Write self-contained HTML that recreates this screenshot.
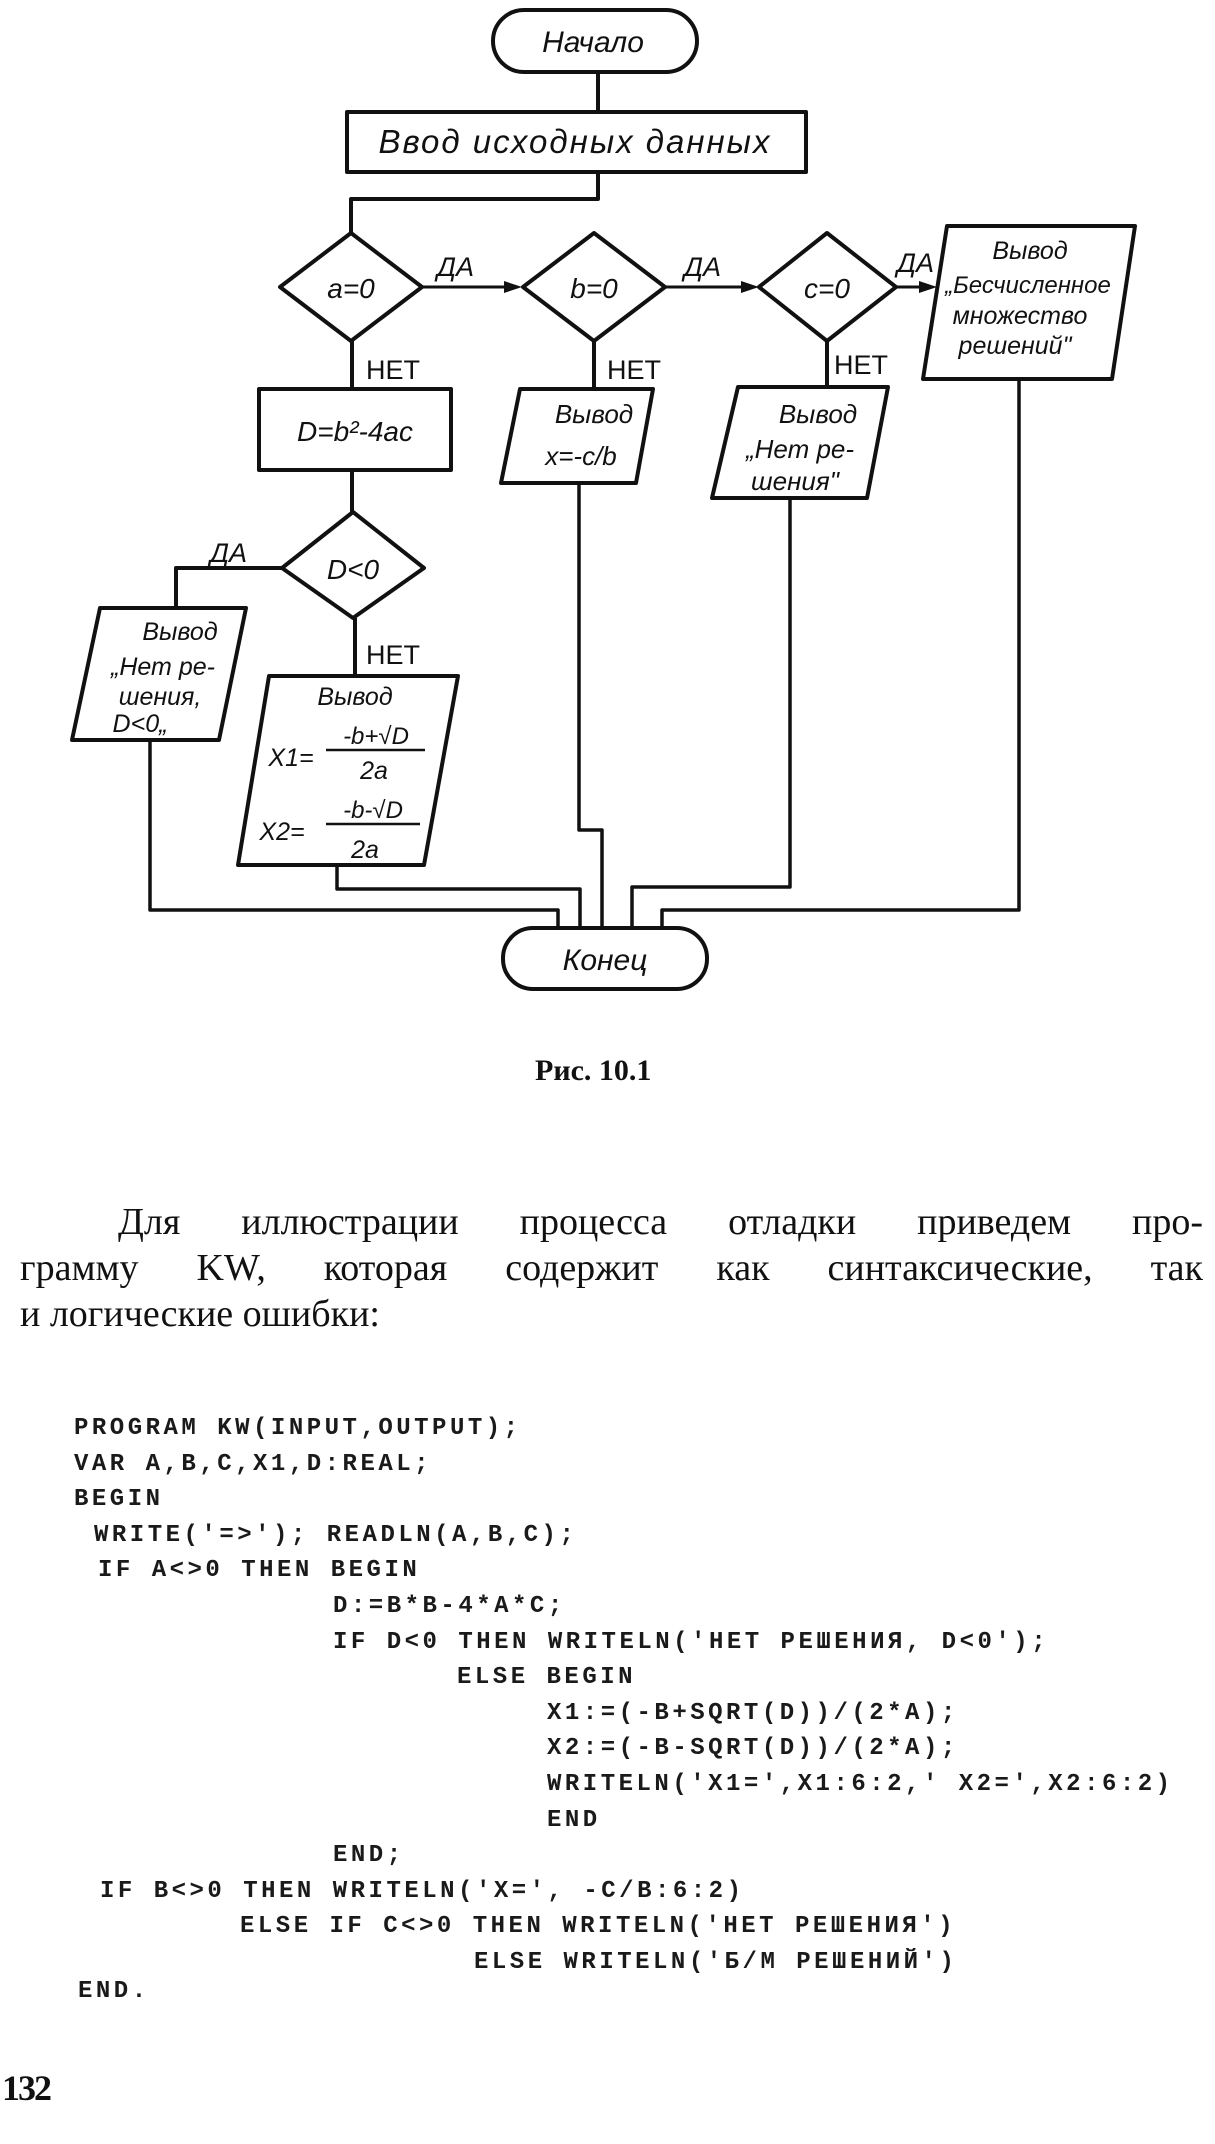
<!DOCTYPE html>
<html><head><meta charset="utf-8"><style>
html,body{margin:0;padding:0;background:#fff;}
body{width:1215px;height:2144px;position:relative;overflow:hidden;}
svg{position:absolute;left:0;top:0;}
.h{font-family:"Liberation Sans",sans-serif;font-style:italic;fill:#111;}
.n{font-family:"Liberation Sans",sans-serif;fill:#111;}
.p{position:absolute;font-family:"Liberation Serif",serif;font-size:38px;color:#111;white-space:nowrap;}
.j{text-align:justify;text-align-last:justify;white-space:normal;}
.c{position:absolute;font-family:"Liberation Mono",monospace;font-weight:bold;font-size:24px;letter-spacing:3.5px;color:#1a1a1a;white-space:pre;line-height:1;}
</style></head><body>
<svg width="1215" height="2144" viewBox="0 0 1215 2144">
<g fill="none" stroke="#111" stroke-width="4" stroke-linejoin="round">
<rect x="493" y="10" width="204" height="62" rx="31"/>
<line x1="598" y1="72" x2="598" y2="112"/>
<rect x="347" y="112" width="459" height="60"/>
<polyline points="598,172 598,199 351,199 351,233"/>
<polygon points="351,233 422,287 351,341 280,287"/>
<polygon points="594,233 665,287 594,341 523,287"/>
<polygon points="827,233 896,287 827,341 759,287"/>
<polygon points="353,512 424,568 353,618 282,568"/>
<line x1="422" y1="287" x2="515" y2="287" stroke-width="3"/>
<line x1="665" y1="287" x2="751" y2="287" stroke-width="3"/>
<line x1="896" y1="287" x2="929" y2="287" stroke-width="3"/>
<line x1="352" y1="341" x2="352" y2="389"/>
<line x1="594" y1="341" x2="594" y2="389"/>
<line x1="827" y1="341" x2="827" y2="387"/>
<rect x="259" y="389" width="192" height="81"/>
<line x1="352" y1="470" x2="352" y2="512"/>
<polyline points="282,568 176,568 176,608"/>
<line x1="355" y1="618" x2="355" y2="676"/>
<polygon points="947,226 1135,226 1112,379 923,379"/>
<polygon points="520,389 653,389 636,483 501,483"/>
<polygon points="738,387 888,387 867,498 712,498"/>
<polygon points="100,608 246,608 219,740 72,740"/>
<polygon points="269,676 458,676 424,865 238,865"/>
<g stroke-width="3.5">
<polyline points="150,740 150,910 558,910 558,930"/>
<polyline points="337,865 337,889 580,889 580,930"/>
<polyline points="579,483 579,830 602,830 602,930"/>
<polyline points="790,498 790,887 632,887 632,930"/>
<polyline points="1019,379 1019,910 662,910 662,930"/>
</g>
<rect x="503" y="928" width="204" height="61" rx="30"/>
</g>
<g fill="#111">
<polygon points="522,287 504,281 504,293"/>
<polygon points="759,287 741,281 741,293"/>
<polygon points="937,287 919,281 919,293"/>
</g>
<g stroke="#111" stroke-width="2.5">
<line x1="326" y1="750" x2="425" y2="750"/>
<line x1="326" y1="824" x2="420" y2="824"/>
</g>
<g class="h" text-anchor="middle">
<text x="593" y="52" font-size="30">Начало</text>
<text x="575" y="153" font-size="33" letter-spacing="2">Ввод исходных данных</text>
<text x="351" y="298" font-size="28">a=0</text>
<text x="594" y="298" font-size="28">b=0</text>
<text x="827" y="298" font-size="28">c=0</text>
<text x="353" y="579" font-size="28">D&lt;0</text>
<text x="355" y="441" font-size="28">D=b²-4ac</text>
<text x="594" y="423" font-size="26">Вывод</text>
<text x="581" y="465" font-size="26">x=-c/b</text>
<text x="818" y="423" font-size="26">Вывод</text>
<text x="800" y="458" font-size="26">„Нет ре-</text>
<text x="795" y="490" font-size="26">шения"</text>
<text x="1030" y="259" font-size="25">Вывод</text>
<text x="1028" y="293" font-size="24">„Бесчисленное</text>
<text x="1020" y="324" font-size="25">множество</text>
<text x="1015" y="354" font-size="25">решений"</text>
<text x="180" y="640" font-size="25">Вывод</text>
<text x="163" y="675" font-size="25">„Нет ре-</text>
<text x="160" y="705" font-size="25">шения,</text>
<text x="140" y="732" font-size="25">D&lt;0„</text>
<text x="355" y="705" font-size="25">Вывод</text>
<text x="291" y="766" font-size="25">X1=</text>
<text x="376" y="744" font-size="24">-b+√D</text>
<text x="374" y="779" font-size="25">2a</text>
<text x="282" y="840" font-size="25">X2=</text>
<text x="373" y="818" font-size="24">-b-√D</text>
<text x="365" y="858" font-size="25">2a</text>
<text x="605" y="970" font-size="30">Конец</text>
</g>
<g class="n" font-size="27">
<text x="366" y="379">НЕТ</text>
<text x="607" y="379">НЕТ</text>
<text x="834" y="374">НЕТ</text>
<text x="366" y="664">НЕТ</text>
<text x="437" y="276" font-style="italic">ДА</text>
<text x="684" y="276" font-style="italic">ДА</text>
<text x="897" y="272" font-style="italic">ДА</text>
<text x="210" y="562" font-style="italic">ДА</text>
</g>
<text x="535" y="1080" font-family="Liberation Serif,serif" font-weight="bold" font-size="30" fill="#111">Рис.  10.1</text>
<text x="2" y="2100" font-family="Liberation Serif,serif" font-weight="bold" font-size="36" fill="#111" letter-spacing="-2">132</text>
</svg>
<div class="p j" style="left:118px;top:1200px;width:1085px;">Для иллюстрации процесса отладки приведем про-</div>
<div class="p j" style="left:20px;top:1246px;width:1183px;">грамму KW, которая содержит как синтаксические, так</div>
<div class="p" style="left:20px;top:1292px;">и логические ошибки:</div>
<div class="c" style="left:74px;top:1417px;">PROGRAM KW(INPUT,OUTPUT);</div>
<div class="c" style="left:74px;top:1453px;">VAR A,B,C,X1,D:REAL;</div>
<div class="c" style="left:74px;top:1488px;">BEGIN</div>
<div class="c" style="left:94px;top:1524px;">WRITE('=&gt;'); READLN(A,B,C);</div>
<div class="c" style="left:98px;top:1559px;">IF A&lt;&gt;0 THEN BEGIN</div>
<div class="c" style="left:333px;top:1595px;">D:=B*B-4*A*C;</div>
<div class="c" style="left:333px;top:1631px;">IF D&lt;0 THEN WRITELN('НЕТ РЕШЕНИЯ, D&lt;0');</div>
<div class="c" style="left:457px;top:1666px;">ELSE BEGIN</div>
<div class="c" style="left:547px;top:1702px;">X1:=(-B+SQRT(D))/(2*A);</div>
<div class="c" style="left:547px;top:1737px;">X2:=(-B-SQRT(D))/(2*A);</div>
<div class="c" style="left:547px;top:1773px;">WRITELN('X1=',X1:6:2,' X2=',X2:6:2)</div>
<div class="c" style="left:547px;top:1809px;">END</div>
<div class="c" style="left:333px;top:1844px;">END;</div>
<div class="c" style="left:100px;top:1880px;">IF B&lt;&gt;0 THEN WRITELN('X=', -C/B:6:2)</div>
<div class="c" style="left:240px;top:1915px;">ELSE IF C&lt;&gt;0 THEN WRITELN('НЕТ РЕШЕНИЯ')</div>
<div class="c" style="left:474px;top:1951px;">ELSE WRITELN('Б/М РЕШЕНИЙ')</div>
<div class="c" style="left:78px;top:1980px;">END.</div>
</body></html>
